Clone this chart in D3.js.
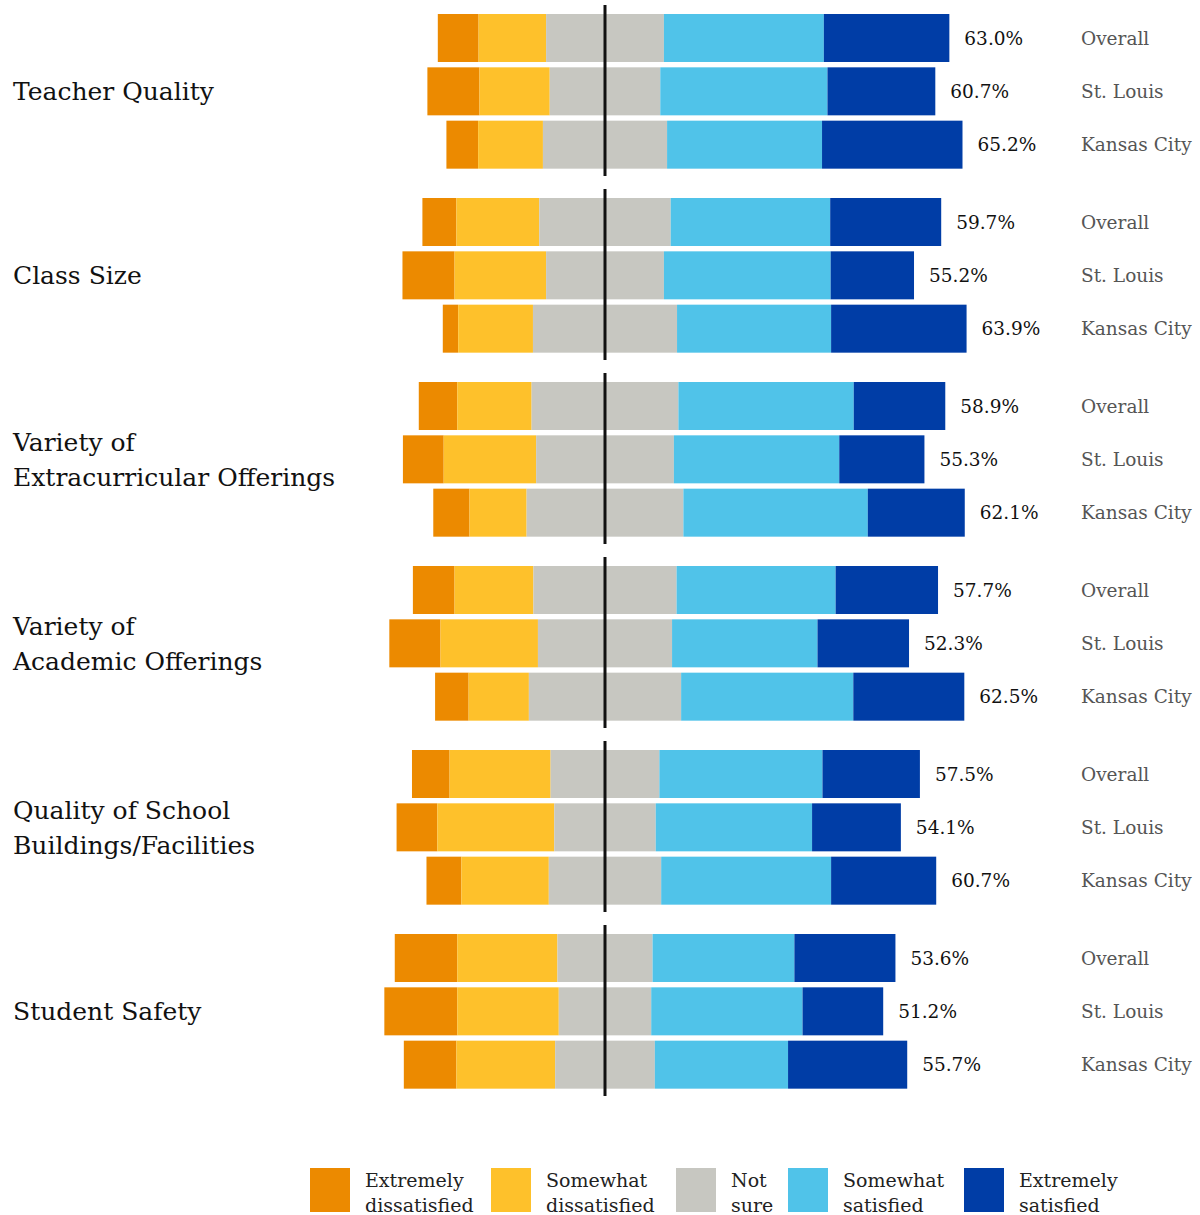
<!DOCTYPE html>
<html>
<head>
<meta charset="utf-8">
<script src="https://cdn.jsdelivr.net/npm/d3@7"></script>
<style>
  html, body { margin: 0; padding: 0; background: #ffffff; }
  svg { display: block; }
  text { font-family: "DejaVu Serif", "Liberation Serif", serif; }
</style>
</head>
<body>
<div id="chart"></div>
<script>
// ---------- DATA ----------
const groups = [
  "Teacher Quality",
  "Class Size",
  "Variety of\nExtracurricular Offerings",
  "Variety of\nAcademic Offerings",
  "Quality of School\nBuildings/Facilities",
  "Student Safety"
];
const regions = ["Overall", "St. Louis", "Kansas City"];
const responses = ["Extremely dissatisfied", "Somewhat dissatisfied", "Not sure", "Somewhat satisfied", "Extremely satisfied"];
const legendLabels = [["Extremely", "dissatisfied"], ["Somewhat", "dissatisfied"], ["Not", "sure"], ["Somewhat", "satisfied"], ["Extremely", "satisfied"]];
const colors = ["#ec8a00", "#fec12b", "#c7c7c1", "#50c3e9", "#003da6"];

// values in percent; order: per group -> Overall, St. Louis, Kansas City
const extremelyDissatisfied = [9.0, 11.5, 7.0,  7.5, 11.5, 3.4,  8.5, 9.0, 8.0,  9.2, 11.3, 7.4,  8.3, 9.0, 7.7,  13.8, 16.1, 11.6];
const somewhatDissatisfied  = [14.9, 15.5, 14.3,  18.3, 20.2, 16.5,  16.4, 20.4, 12.6,  17.4, 21.5, 13.3,  22.3, 25.8, 19.3,  22.1, 22.4, 21.8];
const notSure               = [13.0, 12.2, 13.7,  14.5, 13.0, 15.9,  16.2, 15.2, 17.3,  15.8, 14.8, 16.8,  12.0, 11.2, 12.4,  10.5, 10.2, 11.0];
const somewhatSatisfied     = [35.3, 36.9, 34.2,  35.2, 36.8, 34.0,  38.7, 36.5, 40.7,  35.1, 32.1, 38.0,  36.0, 34.5, 37.5,  31.3, 33.4, 29.4];
const extremelySatisfied    = [27.7, 23.8, 31.0,  24.5, 18.4, 29.9,  20.2, 18.8, 21.4,  22.6, 20.2, 24.5,  21.5, 19.6, 23.2,  22.3, 17.8, 26.3];
const satisfiedLabels       = ["63.0%", "60.7%", "65.2%", "59.7%", "55.2%", "63.9%", "58.9%", "55.3%", "62.1%", "57.7%", "52.3%", "62.5%", "57.5%", "54.1%", "60.7%", "53.6%", "51.2%", "55.7%"];

// ---------- BUILD ROWS ----------
const rows = [];
groups.forEach((g, gi) => {
  regions.forEach((r, ri) => {
    const i = gi * regions.length + ri;
    const ed = extremelyDissatisfied[i], sd = somewhatDissatisfied[i], ns = notSure[i],
          ss = somewhatSatisfied[i], es = extremelySatisfied[i];
    // Not sure is drawn on both sides of the center line
    const segs = [
      { k: 0, x0: -(ns + sd + ed), x1: -(ns + sd) },
      { k: 1, x0: -(ns + sd), x1: -ns },
      { k: 2, x0: -ns, x1: 0 },
      { k: 2, x0: 0, x1: ns },
      { k: 3, x0: ns, x1: ns + ss },
      { k: 4, x0: ns + ss, x1: ns + ss + es }
    ];
    rows.push({ group: g, region: r, segs, end: ns + ss + es, label: satisfiedLabels[i] });
  });
});

// ---------- LAYOUT ----------
const W = 1200, H = 1215;
const svg = d3.select("#chart").append("svg").attr("width", W).attr("height", H);

const x = d3.scaleLinear().domain([-40, 80]).range([605 - 40 * 4.531, 605 + 80 * 4.531]);
const gy = d3.scaleBand().domain(groups).range([0, 184 * groups.length]);
const ry = d3.scaleBand().domain(regions).range([14, 168.67]).paddingInner(0.1);

// group titles
groups.forEach(g => {
  const lines = g.split("\n");
  const center = gy(g) + 91;
  const t = svg.append("text")
    .attr("x", 13)
    .attr("font-size", 25)
    .attr("fill", "#111");
  lines.forEach((ln, li) => {
    const base = center + 9 - (lines.length - 1) * 17.5 + li * 35;
    t.append("tspan").attr("x", 13).attr("y", base).text(ln);
  });
});

// bars
const rowG = svg.selectAll("g.row").data(rows).join("g")
  .attr("class", "row")
  .attr("transform", d => `translate(0,${gy(d.group) + ry(d.region)})`);

rowG.selectAll("rect").data(d => d.segs).join("rect")
  .attr("x", s => x(s.x0))
  .attr("width", s => x(s.x1) - x(s.x0))
  .attr("y", 0)
  .attr("height", ry.bandwidth())
  .attr("fill", s => colors[s.k]);

// value labels
rowG.append("text")
  .attr("x", d => x(d.end) + 15)
  .attr("y", ry.bandwidth() / 2 + 6.5)
  .attr("font-size", 18.5)
  .attr("fill", "#111")
  .text(d => d.label);

// region labels
rowG.append("text")
  .attr("x", 1081)
  .attr("y", ry.bandwidth() / 2 + 6.5)
  .attr("font-size", 18.5)
  .attr("fill", "#555")
  .text(d => d.region);

// center lines
svg.selectAll("line.center").data(groups).join("line")
  .attr("class", "center")
  .attr("x1", x(0)).attr("x2", x(0))
  .attr("y1", g => gy(g) + 5)
  .attr("y2", g => gy(g) + 176)
  .attr("stroke", "#111")
  .attr("stroke-width", 3);

// legend
const legendX = [310, 491, 676, 788, 964];
const lg = svg.selectAll("g.legend").data(responses).join("g")
  .attr("class", "legend")
  .attr("transform", (d, i) => `translate(${legendX[i]},1168)`);
lg.append("rect").attr("width", 40).attr("height", 44).attr("fill", (d, i) => colors[i]);
lg.each(function(d, i) {
  const t = d3.select(this).append("text").attr("font-size", 19).attr("fill", "#222");
  legendLabels[i].forEach((ln, li) => {
    t.append("tspan").attr("x", 55).attr("y", 19 + li * 25).text(ln);
  });
});
</script>
</body>
</html>
